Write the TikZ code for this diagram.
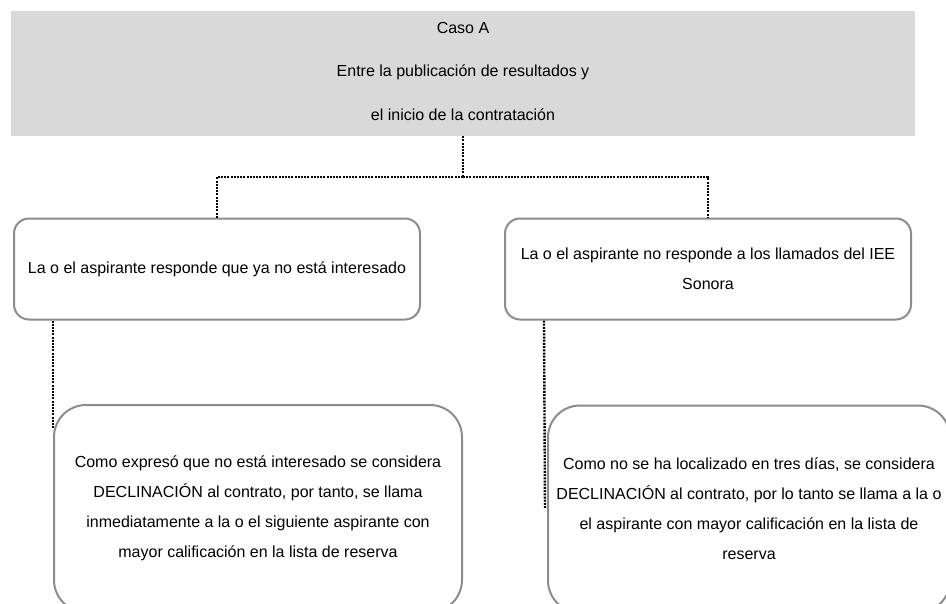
\documentclass[tikz,border=0pt]{standalone}
\usepackage{fontspec}
\setmainfont{Liberation Sans}

\definecolor{headgray}{HTML}{D9D9D9}
\definecolor{boxgray}{HTML}{8C8C8C}

\begin{document}
\begin{tikzpicture}[x=1pt, y=-1pt,
  caja/.style={draw=boxgray, line width=2pt, align=center, inner sep=0pt, font=\fontsize{16}{30}\selectfont},
  punteado/.style={line width=2.4pt, dash pattern=on 2pt off 1.2pt}]
\useasboundingbox (0,0) rectangle (946,603);
\node[fill=headgray, minimum width=904pt, minimum height=125pt, align=center, text depth=5pt, font=\fontsize{16}{43.5}\selectfont] (caso) at (463,73.5) {Caso A\\Entre la publicación de resultados y\\el inicio de la contratación};
\node[caja, rounded corners=15pt, minimum width=406pt, minimum height=101pt] (noint) at (217,269) {La o el aspirante responde que ya no está interesado};
\node[caja, rounded corners=15pt, minimum width=406pt, minimum height=101pt] (noresp) at (708,269) {La o el aspirante no responde a los llamados del IEE\\Sonora};
\node[caja, rounded corners=32pt, minimum width=408pt, minimum height=207pt] (declA) at (258,508.5) {Como expresó que no está interesado se considera\\DECLINACIÓN al contrato, por tanto, se llama\\inmediatamente a la o el siguiente aspirante con\\mayor calificación en la lista de reserva};
\node[caja, rounded corners=32pt, minimum width=402pt, minimum height=207pt] (declB) at (749,509) {Como no se ha localizado en tres días, se considera\\DECLINACIÓN al contrato, por lo tanto se llama a la o\\el aspirante con mayor calificación en la lista de\\reserva};
\coordinate (rama) at (463,177);
\coordinate (finB) at (545,508);
\draw[punteado] (caso.south) -- (rama);
\draw[punteado] (rama) -| (noint.north);
\draw[punteado] (rama) -| (noresp.north);
\draw[punteado] ([xshift=40pt]noint.south west) -- ([yshift=-25pt]declA.north west);
\draw[punteado] ([xshift=40pt]noresp.south west) -- (finB);
\end{tikzpicture}
\end{document}
